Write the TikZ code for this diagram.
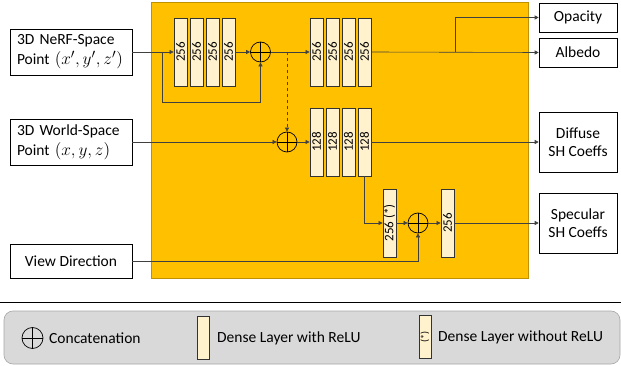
\documentclass[tikz,border=0pt]{standalone}
\usepackage{fontspec}
\usepackage{graphicx}
\setmainfont{Carlito}
\usetikzlibrary{arrows.meta}
\definecolor{gold}{HTML}{FFC000}
\definecolor{goldedge}{HTML}{BF9000}
\definecolor{cream}{HTML}{FFF2CC}
\definecolor{ln}{HTML}{404040}
\definecolor{legfill}{HTML}{D9D9D9}
\definecolor{legedge}{HTML}{A6A6A6}
\newcommand{\bigmath}[1]{\scalebox{1.2}{$#1$}}
\tikzset{
  box/.style={draw=black, line width=0.6pt, fill=white, font=\fontsize{15.5}{18.5}\selectfont, inner sep=0pt},
  inbox/.style={box, minimum width=122pt, text width=108pt, align=left, font=\fontsize{15.5}{20}\selectfont},
  outbox/.style={box, minimum width=78pt, align=center},
  layer/.style={draw=black!80, line width=0.8pt, fill=cream, minimum width=13pt, minimum height=68pt, inner sep=0pt, font=\fontsize{13}{13}\selectfont},
  concat/.style={circle, draw=black, line width=0.7pt, minimum size=20pt, inner sep=0pt,
    path picture={\draw[line width=0.7pt] (path picture bounding box.north) -- (path picture bounding box.south) (path picture bounding box.west) -- (path picture bounding box.east);}},
  arr/.style={draw=ln, line width=0.6pt, -{Triangle[length=4pt,width=4pt]}},
  legtext/.style={font=\fontsize{15.5}{18}\selectfont, anchor=west, inner sep=0pt},
}
\begin{document}
\begin{tikzpicture}[x=1pt,y=-1pt]
\useasboundingbox (0,0) rectangle (621,366);
% main block
\path[fill=gold, draw=goldedge, line width=0.6pt] (151,2) rectangle (528,278);
% inputs
\node[inbox, minimum height=46pt] (nerf) at (71,52) {3D NeRF-Space\\Point \bigmath{(x',y',z')}};
\node[inbox, minimum height=46pt] (world) at (71,142) {3D World-Space\\Point \bigmath{(x,y,z)}};
\node[box, minimum width=122pt, minimum height=34pt] (view) at (71,261) {View Direction};
% outputs
\node[outbox, minimum height=29pt] (opacity) at (578,17.5) {Opacity};
\node[outbox, minimum height=29pt] (albedo) at (578,52.5) {Albedo};
\node[outbox, minimum height=60pt] (diffuse) at (578,142) {Diffuse\\SH Coeffs};
\node[outbox, minimum height=60pt] (specular) at (578,223) {Specular\\SH Coeffs};
% layers row 1
\node[layer] (a1) at (180.5,52) {\rotatebox{90}{256}};
\node[layer] (a2) at (196.5,52) {\rotatebox{90}{256}};
\node[layer] (a3) at (212.5,52) {\rotatebox{90}{256}};
\node[layer] (a4) at (228.5,52) {\rotatebox{90}{256}};
\node[concat] (c1) at (260.5,52) {};
\node[layer] (b1) at (316.5,52) {\rotatebox{90}{256}};
\node[layer] (b2) at (332.5,52) {\rotatebox{90}{256}};
\node[layer] (b3) at (348.5,52) {\rotatebox{90}{256}};
\node[layer] (b4) at (364.5,52) {\rotatebox{90}{256}};
% row 2
\node[concat] (c2) at (287,142) {};
\node[layer] (d1) at (316.5,142) {\rotatebox{90}{128}};
\node[layer] (d2) at (332.5,142) {\rotatebox{90}{128}};
\node[layer] (d3) at (348.5,142) {\rotatebox{90}{128}};
\node[layer] (d4) at (364.5,142) {\rotatebox{90}{128}};
% row 3
\node[layer] (e1) at (389.5,223) {\rotatebox{90}{256 (*)}};
\node[concat] (c3) at (418,223) {};
\node[layer] (f1) at (447.5,223) {\rotatebox{90}{256}};
% connectors
\coordinate (skipA) at (162,52);
\coordinate (dashA) at (287,52);
\coordinate (br) at (455,52);
\draw[arr] (nerf.east) -- (a1.west);
\draw[arr] (skipA) -- (162,102) -| (c1.south);
\draw[arr] (a4.east) -- (c1.west);
\draw[arr] (c1.east) -- (b1.west);
\draw[arr, dashed] (dashA) -- (c2.north);
\draw[arr] (world.east) -- (c2.west);
\draw[arr] (c2.east) -- (d1.west);
\draw[arr] (b4.east) -- (albedo.west);
\draw[arr] (br) |- (opacity.west);
\draw[arr] (d4.east) -- (diffuse.west);
\draw[arr] (d4.south) |- (e1.west);
\draw[arr] (e1.east) -- (c3.west);
\draw[arr] (c3.east) -- (f1.west);
\draw[arr] (f1.east) -- (specular.west);
\draw[arr] (view.east) -| (c3.south);
% separator
\draw[black, line width=0.8pt] (0,302) -- (621,302);
% legend
\path[fill=legfill, draw=legedge, line width=0.6pt, rounded corners=9pt] (4,311) rectangle (620,364);
\node[concat, minimum size=21pt] (lc) at (32.5,338) {};
\node[legtext] (lct) at (49,338) {Concatenation};
\node[layer, minimum width=12pt, minimum height=43pt] (ll) at (203,337.5) {};
\node[legtext] (llt) at (217,338) {Dense Layer with ReLU};
\node[layer, minimum width=12pt, minimum height=43pt, font=\fontsize{10}{10}\selectfont] (ln2) at (425,337) {\rotatebox{90}{(*)}};
\node[legtext] (lnt) at (438,337) {Dense Layer without ReLU};
\end{tikzpicture}
\end{document}
